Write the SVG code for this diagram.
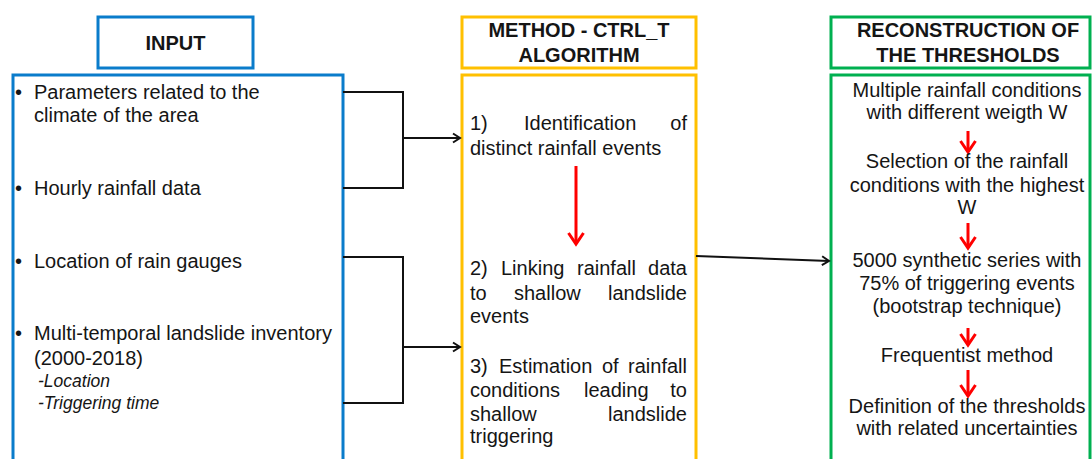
<svg xmlns="http://www.w3.org/2000/svg" width="1092" height="459" viewBox="0 0 1092 459">
<style>
text{font-family:"Liberation Sans",Arial,sans-serif;font-size:20px;fill:#151515}
.b{font-weight:bold}
.c{text-anchor:middle}
.e{text-anchor:end}
.it{font-style:italic;font-size:17.5px}
.blue{fill:#fff;stroke:#0a7ccb;stroke-width:3}
.yel{fill:#fff;stroke:#ffc000;stroke-width:3}
.grn{fill:#fff;stroke:#00b050;stroke-width:3}
.con{fill:none;stroke:#111;stroke-width:2}
.red{fill:none;stroke:#ff0000;stroke-width:3}
</style>
<defs>
<marker id="ah" markerUnits="userSpaceOnUse" markerWidth="14" markerHeight="14" refX="11" refY="7" orient="auto">
<path d="M4,2.5 L11,7 L4,11.5" fill="none" stroke="#111" stroke-width="2"/>
</marker>
<marker id="rh" markerUnits="userSpaceOnUse" markerWidth="20" markerHeight="20" refX="15" refY="10" orient="auto">
<path d="M4,2.5 L15,10 L4,17.5" fill="none" stroke="#ff0000" stroke-width="3"/>
</marker>
</defs>
<rect width="1092" height="459" fill="#fff"/>

<g id="input-title">
<rect class="blue" x="98" y="17" width="155" height="51"/>
<text class="b c" x="175.5" y="50">INPUT</text>
</g>
<g id="input">
<rect class="blue" x="13" y="75" width="330" height="400"/>
<text x="15" y="99">•<tspan x="34">Parameters related to the</tspan></text>
<text x="34" y="122">climate of the area</text>
<text x="15" y="195">•<tspan x="34">Hourly rainfall data</tspan></text>
<text x="15" y="268">•<tspan x="34">Location of rain gauges</tspan></text>
<text x="15" y="340">•<tspan x="34">Multi-temporal landslide inventory</tspan></text>
<text x="34" y="365">(2000-2018)</text>
<text class="it" x="38" y="387">-Location</text>
<text class="it" x="38" y="409">-Triggering time</text>
</g>

<g id="method-title">
<rect class="yel" x="462" y="17" width="234" height="51"/>
<text class="b c" x="579" y="37">METHOD - CTRL_T</text>
<text class="b c" x="579" y="62">ALGORITHM</text>
</g>
<g id="method">
<rect class="yel" x="462" y="75" width="234" height="400"/>
<text y="130"><tspan x="470">1)</tspan><tspan x="524">Identification</tspan></text>
<text class="e" x="687" y="130">of</text>
<text x="470" y="155">distinct rainfall events</text>
<line class="red" x1="576" y1="166" x2="576" y2="244" marker-end="url(#rh)"/>
<text y="275"><tspan x="470">2)</tspan><tspan x="501">Linking</tspan><tspan x="577">rainfall</tspan></text>
<text class="e" x="687" y="275">data</text>
<text y="300"><tspan x="470">to</tspan><tspan x="514">shallow</tspan></text>
<text class="e" x="687" y="300">landslide</text>
<text x="470" y="323">events</text>
<text y="373"><tspan x="470">3)</tspan><tspan x="499">Estimation</tspan><tspan x="602">of</tspan></text>
<text class="e" x="687" y="373">rainfall</text>
<text y="397"><tspan x="470">conditions</tspan><tspan x="584">leading</tspan></text>
<text class="e" x="687" y="397">to</text>
<text x="470" y="421">shallow</text>
<text class="e" x="687" y="421">landslide</text>
<text x="470" y="443">triggering</text>
</g>

<g id="recon-title">
<rect class="grn" x="831" y="17" width="259" height="51"/>
<text class="b c" x="968" y="37">RECONSTRUCTION OF</text>
<text class="b c" x="968" y="62">THE THRESHOLDS</text>
</g>
<g id="recon">
<rect class="grn" x="831" y="75" width="259" height="400"/>
<text class="c" x="967" y="97">Multiple rainfall conditions</text>
<text class="c" x="967" y="119">with different weigth W</text>
<line class="red" x1="968" y1="131" x2="968" y2="152" marker-end="url(#rh)"/>
<text class="c" x="967" y="168">Selection of the rainfall</text>
<text class="c" x="967" y="192">conditions with the highest</text>
<text class="c" x="967" y="214">W</text>
<line class="red" x1="968" y1="223" x2="968" y2="248" marker-end="url(#rh)"/>
<text class="c" x="967" y="267">5000 synthetic series with</text>
<text class="c" x="967" y="290">75% of triggering events</text>
<text class="c" x="967" y="313">(bootstrap technique)</text>
<line class="red" x1="968" y1="328" x2="968" y2="345" marker-end="url(#rh)"/>
<text class="c" x="967" y="362">Frequentist method</text>
<line class="red" x1="968" y1="370" x2="968" y2="396" marker-end="url(#rh)"/>
<text class="c" x="967" y="413">Definition of the thresholds</text>
<text class="c" x="967" y="435">with related uncertainties</text>
</g>

<g id="connectors">
<path class="con" d="M343,92 H403 V188 H343"/>
<line class="con" x1="403" y1="138" x2="460" y2="138" marker-end="url(#ah)"/>
<path class="con" d="M343,257 H403 V403 H343"/>
<line class="con" x1="403" y1="347" x2="460" y2="347" marker-end="url(#ah)"/>
<line class="con" x1="696" y1="256" x2="829" y2="261" marker-end="url(#ah)"/>
</g>
</svg>
